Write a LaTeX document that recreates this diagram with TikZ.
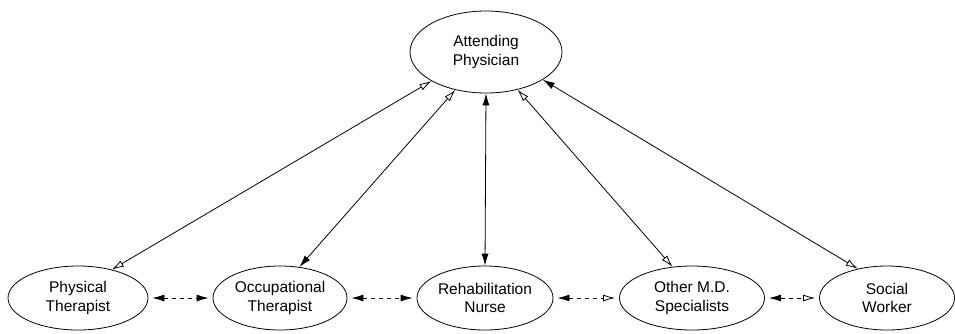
\documentclass[tikz,border=0pt]{standalone}
\usepackage{fontspec}
\setmainfont{Liberation Sans}
\usetikzlibrary{shapes.geometric, arrows.meta}

\begin{document}
\begin{tikzpicture}[x=1pt, y=-1pt,
    role/.style={draw, ellipse, thick, minimum width=138pt, minimum height=64pt,
        align=center, font=\fontsize{15.5}{18.5}\selectfont, inner sep=0pt},
    link/.style={thick},
    peer/.style={thick, dash pattern=on 4pt off 4pt, shorten <=4pt, shorten >=4pt},
    full/.tip={Latex[length=12pt, width=7pt]},
    hollow/.tip={Latex[open, length=12pt, width=7pt]}]
    \useasboundingbox (0,0) rectangle (955,333);
    \node[role, minimum width=152pt, minimum height=82pt] (doc) at (486,52) {Attending\\Physician};
    \node[role, minimum width=140pt] (pt) at (78,298) {Physical\\Therapist};
    \node[role, minimum width=134pt] (ot) at (280,298) {Occupational\\Therapist};
    \node[role, minimum width=136pt] (rn) at (485,298) {Rehabilitation\\Nurse};
    \node[role, minimum width=145pt] (md) at (692,298) {Other M.D.\\Specialists};
    \node[role, minimum width=135pt] (sw) at (887,298) {Social\\Worker};
    % lines to the attending physician
    \draw[link, hollow-hollow] (doc.208) -- (pt.40);
    \draw[link, hollow-full] (doc.231) -- (ot.58);
    \draw[link, full-full] (doc.270) -- (rn.90);
    \draw[link, hollow-hollow] (doc.310) -- (md.122);
    \draw[link, full-hollow] (doc.334) -- (sw.135);
    % team members among themselves
    \draw[peer, full-full] (pt.east) -- (ot.west);
    \draw[peer, full-full] (ot.east) -- (rn.west);
    \draw[peer, full-hollow] (rn.east) -- (md.west);
    \draw[peer, full-hollow] (md.east) -- (sw.west);
\end{tikzpicture}
\end{document}
